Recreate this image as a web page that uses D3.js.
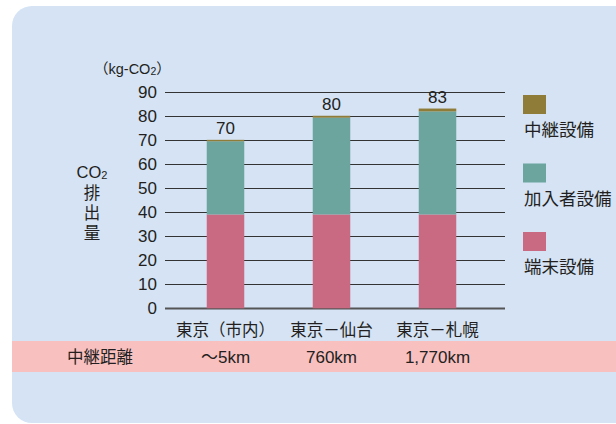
<!DOCTYPE html>
<html><head><meta charset="utf-8">
<script src="https://cdn.jsdelivr.net/npm/d3@7"></script>
<style>
html,body{margin:0;padding:0;background:#fff;}
text{font-family:"Liberation Sans","Noto Sans CJK JP",sans-serif;fill:#231f20;}
.cjk{font-family:"Noto Sans CJK JP",sans-serif;}
</style></head>
<body>
<svg id="c" width="616" height="424"></svg>
<script>
const categories = ["東京（市内）", "東京－仙台", "東京－札幌"];
const distances = ["～5km", "760km", "1,770km"];
const seriesNames = ["端末設備", "加入者設備", "中継設備"];
const terminal = [39, 39, 39];
const subscriber = [30.4, 40.2, 42.8];
const relay = [0.6, 0.8, 1.2];
const totals = [70, 80, 83];
const yTicks = [0, 10, 20, 30, 40, 50, 60, 70, 80, 90];
const colors = ["#c96a82", "#6ba59d", "#8e7c38"];

const svg = d3.select("#c");
// panel
svg.append("rect").attr("x", 12).attr("y", 6).attr("width", 640).attr("height", 417)
  .attr("rx", 20).attr("fill", "#d5e3f5");
// distance band
svg.append("rect").attr("x", 12).attr("y", 341).attr("width", 604).attr("height", 31)
  .attr("fill", "#f9c0c0");

const y = d3.scaleLinear().domain([0, 90]).range([308.3, 91.7]);
const x = d3.scaleBand().domain(categories).range([172.5, 490.5])
  .paddingInner(0.646).paddingOuter(0.323);

// grid lines
svg.append("g").selectAll("line").data(yTicks).join("line")
  .attr("x1", 165).attr("x2", 505)
  .attr("y1", d => Math.round(y(d)) + 0.5).attr("y2", d => Math.round(y(d)) + 0.5)
  .attr("stroke", d => d === 0 ? "#555" : "#333")
  .attr("stroke-width", d => d === 0 ? 2 : 1.1);

// y tick labels
svg.append("g").selectAll("text").data(yTicks).join("text")
  .attr("x", 157).attr("y", d => y(d)).attr("dy", "0.36em")
  .attr("text-anchor", "end").attr("font-size", 17).text(d => d);

// stacked data
const rows = categories.map((c, i) => ({cat: c, "端末設備": terminal[i], "加入者設備": subscriber[i], "中継設備": relay[i]}));
const stack = d3.stack().keys(seriesNames)(rows);
svg.append("g").selectAll("g").data(stack).join("g")
  .attr("fill", (d, i) => colors[i])
  .selectAll("rect").data(d => d).join("rect")
  .attr("x", d => x(d.data.cat)).attr("width", x.bandwidth())
  .attr("y", d => y(d[1])).attr("height", d => y(d[0]) - y(d[1]));

// total labels
svg.append("g").selectAll("text").data(categories).join("text")
  .attr("x", d => x(d) + x.bandwidth() / 2).attr("y", (d, i) => y(totals[i]) - 6)
  .attr("text-anchor", "middle").attr("font-size", 17).text((d, i) => totals[i]);

// category labels
svg.append("g").selectAll("text").data(categories).join("text")
  .attr("class", "cjk")
  .attr("x", d => x(d) + x.bandwidth() / 2).attr("y", 330).attr("dy", "0.36em")
  .attr("text-anchor", "middle").attr("font-size", 16.5).text(d => d);

// distance row
svg.append("text").attr("class", "cjk").attr("x", 100).attr("y", 357).attr("dy", "0.36em")
  .attr("text-anchor", "middle").attr("font-size", 16.5).text("中継距離");
svg.append("g").selectAll("text").data(categories).join("text")
  .attr("x", d => x(d) + x.bandwidth() / 2).attr("y", 357).attr("dy", "0.36em")
  .attr("text-anchor", "middle").attr("font-size", 17).text((d, i) => distances[i]);

// unit label
const unit = svg.append("text").attr("x", 94).attr("y", 69).attr("dy", "0.36em").attr("font-size", 14.5);
unit.append("tspan").attr("class", "cjk").text("（");
unit.append("tspan").text("kg-CO");
unit.append("tspan").attr("font-size", 10.5).attr("dy", 1).text("2");
unit.append("tspan").attr("class", "cjk").attr("dy", -1).text("）");

// y axis title
const co2 = svg.append("text").attr("x", 92).attr("y", 172).attr("dy", "0.36em")
  .attr("text-anchor", "middle").attr("font-size", 16.5);
co2.append("tspan").text("CO");
co2.append("tspan").attr("font-size", 11).attr("dy", 1).text("2");
svg.append("text").attr("class", "cjk")
  .attr("transform", "translate(92,184)")
  .style("writing-mode", "vertical-rl").style("letter-spacing", "3.5px")
  .attr("text-anchor", "start").attr("font-size", 16.5).text("排出量");

// legend
const legendOrder = [2, 1, 0];
const lg = svg.append("g").selectAll("g").data(legendOrder).join("g")
  .attr("transform", (d, i) => `translate(523,${95 + i * 68.5})`);
lg.append("rect").attr("width", 23).attr("height", 19).attr("fill", d => colors[d]);
lg.append("text").attr("class", "cjk").attr("x", 1).attr("y", 35).attr("dy", "0.36em")
  .attr("font-size", 17.5).text(d => seriesNames[d]);
</script>
</body></html>
